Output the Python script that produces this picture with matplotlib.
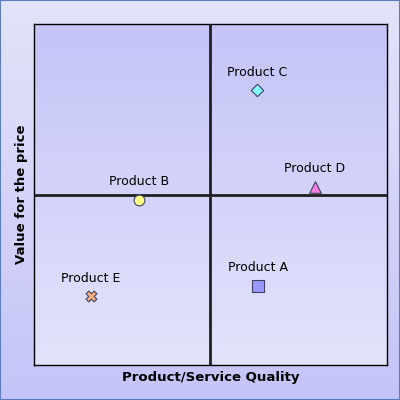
import numpy as np
import matplotlib.pyplot as plt
from matplotlib.colors import LinearSegmentedColormap

products = ['Product A', 'Product B', 'Product C', 'Product D', 'Product E']
quality = [63.5, 29.7, 63.2, 79.6, 16.1]
value = [23.2, 48.4, 80.6, 52.2, 20.2]
markers = ['s', 'o', 'D', '^', 'X']
colors = ['#9999ff', '#ffff80', '#80ffff', '#ff80e0', '#ffb080']
sizes = [70, 60, 40, 70, 60]

fig = plt.figure(figsize=(4, 4), dpi=100)

# outer gradient background
bg = fig.add_axes([0, 0, 1, 1], zorder=-10)
cmap_bg = LinearSegmentedColormap.from_list('bg', ['#e3e3fa', '#c4c4f8'])
bg.imshow(np.linspace(0, 1, 256).reshape(-1, 1), aspect='auto', cmap=cmap_bg,
          extent=[0, 1, 0, 1], origin='upper')
bg.set_xlim(0, 1)
bg.set_ylim(0, 1)
bg.axis('off')
bg.plot([0.001, 0.999, 0.999, 0.001, 0.001], [0.001, 0.001, 0.999, 0.999, 0.001],
        color='#5a7fc0', lw=1.5, clip_on=False)

ax = fig.add_axes([34 / 400, 35 / 400, 353 / 400, 341 / 400])
cmap_ax = LinearSegmentedColormap.from_list('ax', ['#c4c4f8', '#e3e3fc'])
ax.imshow(np.linspace(0, 1, 256).reshape(-1, 1), aspect='auto', cmap=cmap_ax,
          extent=[0, 100, 0, 100], origin='upper', zorder=0)
ax.set_xlim(0, 100)
ax.set_ylim(0, 100)
ax.axvline(50, color='#202020', lw=2, zorder=1)
ax.axhline(50, color='#202020', lw=2, zorder=1)

for name, x, y, m, c, s in zip(products, quality, value, markers, colors, sizes):
    ax.scatter(x, y, marker=m, s=s, color=c, edgecolor='#404060', linewidth=0.8, zorder=3)
    ax.annotate(name, (x, y), xytext=(0, 13), textcoords='offset points',
                ha='center', va='center', fontsize=9, color='black')

ax.set_xticks([])
ax.set_yticks([])
for sp in ax.spines.values():
    sp.set_linewidth(1)
    sp.set_color('black')

ax.set_xlabel('Product/Service Quality', fontsize=9.5, fontweight='bold', labelpad=4)
ax.set_ylabel('Value for the price', fontsize=9.5, fontweight='bold', labelpad=4)

fig.savefig('out.png', dpi=100)
